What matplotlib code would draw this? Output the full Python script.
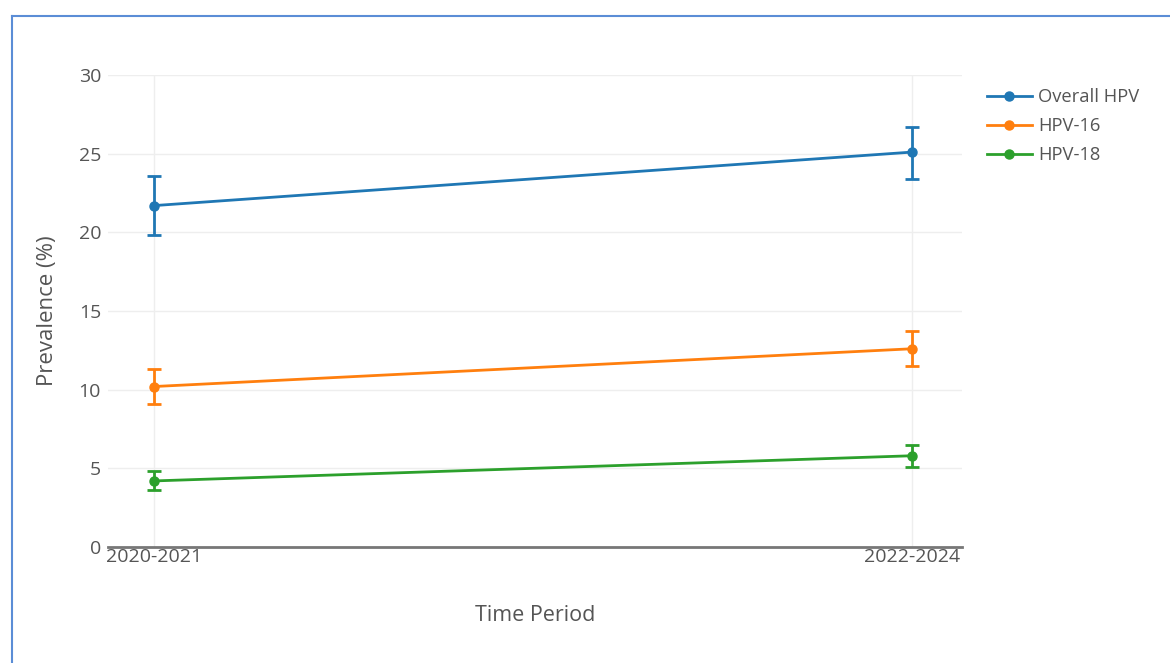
"""HPV prevalence by time period, with 95% CI error bars."""

import matplotlib

matplotlib.use("Agg")
import matplotlib.pyplot as plt  # noqa: E402
from matplotlib.lines import Line2D  # noqa: E402

periods = ["2020-2021", "2022-2024"]
series = ["Overall HPV", "HPV-16", "HPV-18"]
colors = ["#1f77b4", "#ff7f0e", "#2ca02c"]

overall = [21.7, 25.1]
overall_lo = [19.8, 23.4]
overall_hi = [23.6, 26.7]

hpv16 = [10.2, 12.6]
hpv16_lo = [9.1, 11.5]
hpv16_hi = [11.3, 13.7]

hpv18 = [4.2, 5.8]
hpv18_lo = [3.6, 5.1]
hpv18_hi = [4.8, 6.5]

values = [overall, hpv16, hpv18]
lows = [overall_lo, hpv16_lo, hpv18_lo]
highs = [overall_hi, hpv16_hi, hpv18_hi]

plt.rcParams["font.family"] = ["Open Sans", "DejaVu Sans"]
TXT = "#555555"

fig = plt.figure(figsize=(11.7, 6.63), dpi=100)
ax = fig.add_axes([108 / 1170, 1 - 547 / 663, (962 - 108) / 1170, (547 - 75) / 663])

x = list(range(len(periods)))
for name, vals, lo, hi, c in zip(series, values, lows, highs, colors):
    err = [[v - l for v, l in zip(vals, lo)], [h - v for v, h in zip(vals, hi)]]
    ax.errorbar(x, vals, yerr=err, color=c, lw=2, marker="o", ms=6.5,
                capsize=5, capthick=2, elinewidth=2, label=name, zorder=3)

ax.set_xlim(-0.061, 1.066)
ax.set_ylim(0, 30)
ax.set_yticks([0, 5, 10, 15, 20, 25, 30])
ax.set_xticks(x, periods)
ax.grid(True, color="#eeeeee", lw=1)
ax.set_axisbelow(True)
for s in ["top", "right", "left"]:
    ax.spines[s].set_visible(False)
ax.spines["bottom"].set_color("#777777")
ax.spines["bottom"].set_linewidth(2)
ax.tick_params(length=0, labelsize=14, labelcolor=TXT)
ax.tick_params(axis="y", pad=5)
ax.tick_params(axis="x", pad=1)
ax.set_xlabel("Time Period", fontsize=15.5, color=TXT, labelpad=28)
ax.set_ylabel("Prevalence (%)", fontsize=16, color=TXT, labelpad=15)

handles = [Line2D([], [], color=c, lw=2, marker="o", ms=6.5) for c in colors]
fig.legend(handles, series, loc="upper left", bbox_to_anchor=(970 / 1170, 1 - 72 / 663),
           frameon=False, fontsize=13.2, labelcolor=TXT, handlelength=2.5,
           handletextpad=0.3, labelspacing=0.6)

# frame of the screenshot
fig.add_artist(Line2D([12 / 1170, 12 / 1170], [0, 1 - 16 / 663], color="#5b8dd6", lw=1.5))
fig.add_artist(Line2D([12 / 1170, 1], [1 - 16 / 663, 1 - 16 / 663], color="#5b8dd6", lw=1.5))

fig.savefig("out.png", dpi=100)
